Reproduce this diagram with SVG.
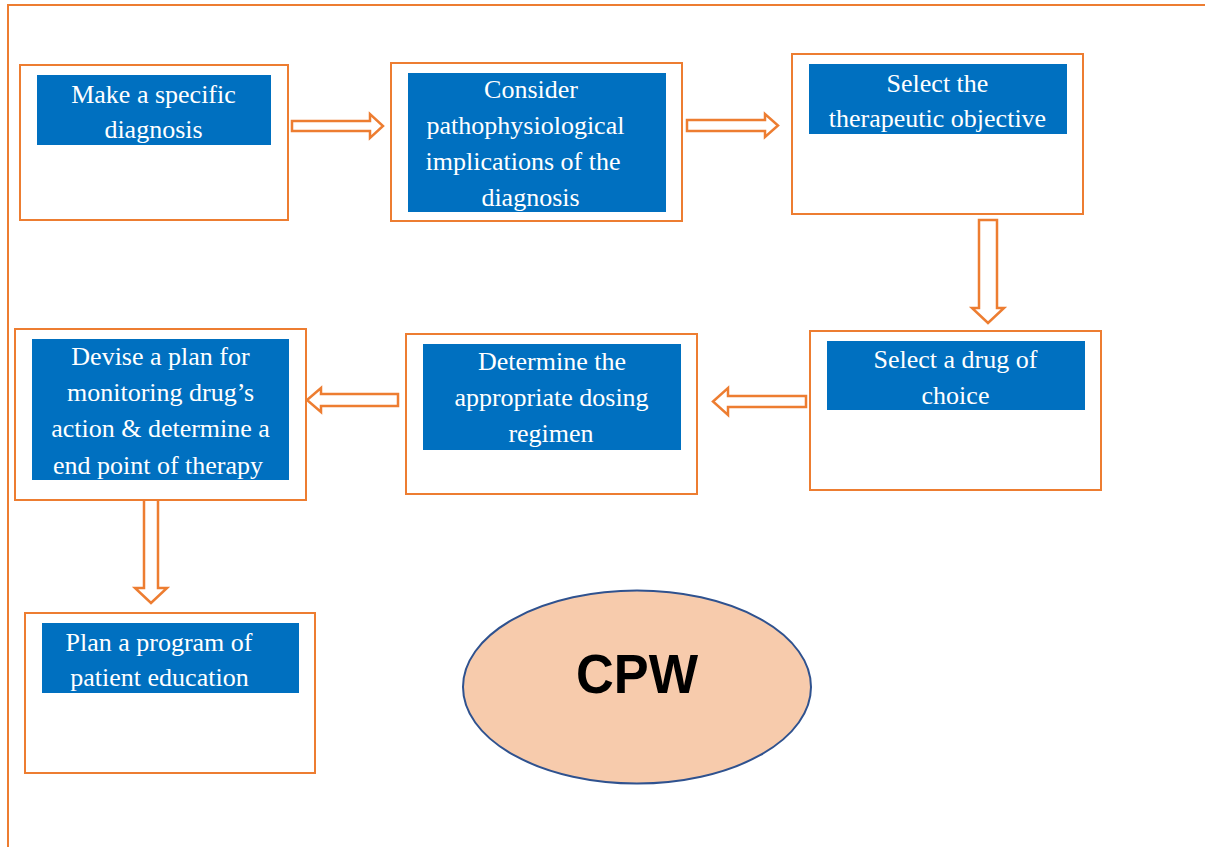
<svg xmlns="http://www.w3.org/2000/svg" width="1205" height="847" viewBox="0 0 1205 847">
<style>
.box{fill:#fff;stroke:#ED7D31;stroke-width:2}
.lab{fill:#0070C0}
.t{font-family:'Liberation Serif','DejaVu Serif',serif;font-size:26px;fill:#fff;text-anchor:middle}
.arr{fill:#fff;stroke:#ED7D31;stroke-width:2.5;stroke-linejoin:miter}
.frame{fill:none;stroke:#ED7D31;stroke-width:2}
</style>
<defs>
<clipPath id="c2"><rect x="408" y="73" width="258" height="139"/></clipPath>
<clipPath id="c5"><rect x="423" y="344" width="258" height="106"/></clipPath>
<clipPath id="c6"><rect x="32" y="339" width="257" height="141"/></clipPath>
</defs>
<rect width="1205" height="847" fill="#fff"/>
<path class="frame" d="M8,847 V5 H1205"/>

<g id="connectors">
<polygon class="arr" points="292,121 370,121 370,114 383,126 370,138 370,131 292,131"/>
<polygon class="arr" points="687,120 765,120 765,114 778,125.5 765,137 765,131 687,131"/>
<polygon class="arr" points="979,220 997,220 997,308 1004,308 988,323 972,308 979,308"/>
<polygon class="arr" points="806,396 728,396 728,388 713,401.5 728,415 728,407 806,407"/>
<polygon class="arr" points="398,394 321,394 321,388 307,400 321,412 321,406 398,406"/>
<polygon class="arr" points="144,499 158,499 158,588 167,588 151,603 135,588 144,588"/>
</g>

<g id="n1">
<rect class="box" x="20" y="65" width="268" height="155"/>
<rect class="lab" x="37" y="75" width="234" height="70"/>
<text class="t" x="153.5" y="103">Make a specific</text>
<text class="t" x="153.5" y="138">diagnosis</text>
</g>

<g id="n2">
<rect class="box" x="391" y="63" width="291" height="158"/>
<rect class="lab" x="408" y="73" width="258" height="139"/>
<g clip-path="url(#c2)">
<text class="t" x="531" y="98">Consider</text>
<text class="t" x="525.5" y="134">pathophysiological</text>
<text class="t" x="523" y="170">implications of the</text>
<text class="t" x="530.5" y="206">diagnosis</text>
</g>
</g>

<g id="n3">
<rect class="box" x="792" y="54" width="291" height="160"/>
<rect class="lab" x="809" y="64" width="258" height="70"/>
<text class="t" x="937.5" y="92">Select the</text>
<text class="t" x="937.5" y="127">therapeutic objective</text>
</g>

<g id="n4">
<rect class="box" x="810" y="331" width="291" height="159"/>
<rect class="lab" x="827" y="341" width="258" height="69"/>
<text class="t" x="955.5" y="368">Select a drug of</text>
<text class="t" x="955.5" y="404">choice</text>
</g>

<g id="n5">
<rect class="box" x="406" y="334" width="291" height="160"/>
<rect class="lab" x="423" y="344" width="258" height="106"/>
<g clip-path="url(#c5)">
<text class="t" x="552" y="370">Determine the</text>
<text class="t" x="551.5" y="406">appropriate dosing</text>
<text class="t" x="551" y="442">regimen</text>
</g>
</g>

<g id="n6">
<rect class="box" x="15" y="329" width="291" height="171"/>
<rect class="lab" x="32" y="339" width="257" height="141"/>
<g clip-path="url(#c6)">
<text class="t" x="160.5" y="365">Devise a plan for</text>
<text class="t" x="160.5" y="401">monitoring drug’s</text>
<text class="t" x="160.5" y="437">action &amp; determine a</text>
<text class="t" x="158" y="474">end point of therapy</text>
</g>
</g>

<g id="n7">
<rect class="box" x="25" y="613" width="290" height="160"/>
<rect class="lab" x="42" y="623" width="257" height="70"/>
<text class="t" x="159" y="651">Plan a program of</text>
<text class="t" x="159.5" y="686">patient education</text>
</g>

<g id="cpw">
<ellipse cx="637" cy="687" rx="174" ry="96.5" fill="#F7CBAC" stroke="#2F528F" stroke-width="2"/>
<text x="637" y="693" font-family="'Liberation Sans',Arial,sans-serif" font-weight="bold" font-size="56" text-anchor="middle" fill="#000" textLength="122" lengthAdjust="spacingAndGlyphs">CPW</text>
</g>
</svg>
